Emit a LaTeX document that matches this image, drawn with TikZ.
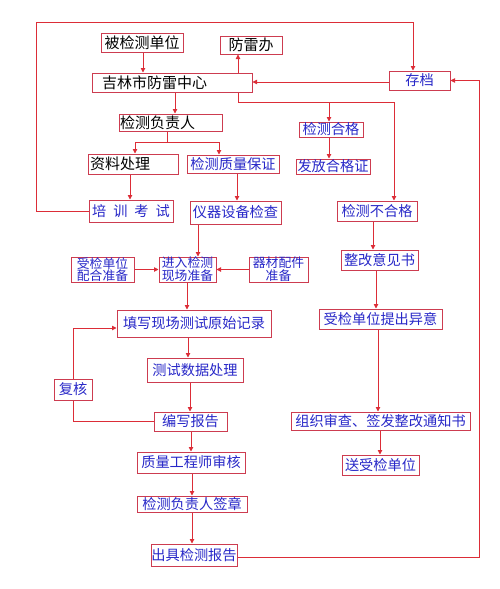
\documentclass[tikz,border=0pt]{standalone}
\usepackage{fontspec}
\newfontfamily\cjk{Noto Sans CJK SC}
\usetikzlibrary{arrows.meta}
\definecolor{boxred}{RGB}{205,60,80}
\definecolor{linered}{RGB}{220,45,55}
\definecolor{txtblue}{RGB}{40,40,200}
\pgfdeclarelayer{bg}
\pgfsetlayers{bg,main}
\tikzset{
  bx/.style={draw=boxred, line width=1pt, fill=white, inner sep=0pt, text=txtblue,
    font=\cjk\fontsize{14.2}{14.2}\selectfont},
  blk/.style={text=black, font=\cjk\fontsize{15}{15}\selectfont},
  two/.style={align=center, font=\cjk\fontsize{12.8}{11.5}\selectfont},
  conn/.style={draw=linered, line width=0.9pt},
  arr/.style={conn, -{Triangle[length=4.5pt,width=4.5pt]}},
}
\begin{document}
\begin{tikzpicture}[x=1pt,y=-1pt]
\useasboundingbox (0,0) rectangle (500,589);
% nodes
\node[bx,blk,minimum width=82,minimum height=19] (bjc) at (142,42.5) {被检测单位};
\node[bx,blk,minimum width=62,minimum height=18] (flb) at (251,45) {防雷办};
\node[bx,blk,minimum height=19,inner xsep=10pt,text width=140pt,align=left] (jl) at (172,82.5) {吉林市防雷中心};
\node[bx,minimum width=61,minimum height=19] (cd) at (419.5,80.5) {存档};
\node[bx,blk,minimum height=17,inner xsep=1pt,text width=101pt,align=left] (fzr) at (170.5,122.5) {检测负责人};
\node[bx,blk,minimum height=20,inner xsep=2pt,text width=86pt,align=left] (zl) at (133,164) {资料处理};
\node[bx,minimum width=92,minimum height=18] (zlbz) at (233,164) {检测质量保证};
\node[bx,minimum width=84,minimum height=22] (px) at (131,211) {培\hspace{7pt}训\hspace{7pt}考\hspace{7pt}试};
\node[bx,minimum width=91,minimum height=23] (yq) at (235.5,212.5) {仪器设备检查};
\node[bx,minimum width=64,minimum height=15] (hg) at (331,129.5) {检测合格};
\node[bx,minimum width=74,minimum height=15] (ff) at (333,166.5) {发放合格证};
\node[bx,minimum width=80,minimum height=20] (bhg) at (377,211) {检测不合格};
\node[bx,minimum width=77,minimum height=20] (zg) at (379.5,260) {整改意见书};
\node[bx,minimum width=123,minimum height=20] (yy) at (380.5,319) {受检单位提出异意};
\node[bx,minimum width=179,minimum height=18] (zz) at (380.5,421) {组织审查、签发整改通知书};
\node[bx,minimum width=77,minimum height=20] (sj) at (380.5,465) {送受检单位};
\node[bx,two,minimum width=63,minimum height=25] (sjph) at (102.5,269.5) {受检单位\\配合准备};
\node[bx,two,minimum width=57,minimum height=25] (jr) at (187.5,269.5) {进入检测\\现场准备};
\node[bx,two,minimum width=59,minimum height=25] (qc) at (278.5,269.5) {器材配件\\准备};
\node[bx,minimum width=154,minimum height=27] (tx) at (194,323.5) {填写现场测试原始记录};
\node[bx,minimum width=96,minimum height=24] (cs) at (195,370) {测试数据处理};
\node[bx,minimum width=38,minimum height=21] (fh) at (73,389.5) {复核};
\node[bx,minimum width=73,minimum height=19] (bxg) at (190.5,421.5) {编写报告};
\node[bx,minimum width=108,minimum height=21] (zlgc) at (191,462.5) {质量工程师审核};
\node[bx,minimum width=110,minimum height=16] (qz) at (192,504) {检测负责人签章};
\node[bx,minimum width=86,minimum height=22] (cj) at (194,555) {出具检测报告};
% helper coordinates
\coordinate (c1) at (238,102);
\coordinate (c2) at (394,102);
\coordinate (c3) at (329,102);
\coordinate (tl) at (36.7,22);
\coordinate (tr) at (413,22);
\coordinate (s1) at (167,142);
\coordinate (sL) at (135,142);
\coordinate (sR) at (219,142);
\coordinate (x143) at (143,0);
\coordinate (x175) at (175,0);
\coordinate (x130) at (130,0);
\coordinate (x237) at (237,0);
\coordinate (x373) at (373,0);
\coordinate (x376) at (376,0);
\coordinate (x378) at (378,0);
\coordinate (x380) at (380,0);
\coordinate (x198) at (198,0);
\coordinate (x187) at (187,0);
\coordinate (x188) at (188,0);
\coordinate (x190) at (190,0);
\coordinate (x191) at (191,0);
\coordinate (x192) at (192,0);
\coordinate (x479) at (479,0);
\coordinate (y82) at (0,82);
\coordinate (y328) at (0,328);
\coordinate (y557) at (0,557);
\begin{pgfonlayer}{bg}
\draw[arr] (bjc.south -| x143) -- (jl.north -| x143);
\draw[arr] (c1) -- (flb.south -| c1);
\draw[conn] (c1) -- (c2);
\draw[arr] (c2) -- (bhg.north -| c2);
\draw[arr] (c3) -- (hg.north -| c3);
\draw[arr] (px.west) -- (px.west -| tl) -- (tl) -- (tr) -- (cd.north -| tr);
\draw[arr] (cd.west |- y82) -- (jl.east |- y82);
\draw[arr] (jl.south -| x175) -- (fzr.north -| x175);
\draw[conn] (fzr.south -| s1) -- (s1);
\draw[conn] (sL) -- (sR);
\draw[arr] (sL) -- (zl.north -| sL);
\draw[arr] (sR) -- (zlbz.north -| sR);
\draw[arr] (zl.south -| x130) -- (px.north -| x130);
\draw[arr] (zlbz.south -| x237) -- (yq.north -| x237);
\draw[arr] (hg.south -| c3) -- (ff.north -| c3);
\draw[arr] (bhg.south -| x373) -- (zg.north -| x373);
\draw[arr] (zg.south -| x376) -- (yy.north -| x376);
\draw[arr] (yy.south -| x378) -- (zz.north -| x378);
\draw[arr] (zz.south -| x380) -- (sj.north -| x380);
\draw[arr] (yq.south -| x198) -- (jr.north -| x198);
\draw[arr] (sjph.east) -- (jr.west);
\draw[arr] (qc.west) -- (jr.east);
\draw[arr] (jr.south -| x187) -- (tx.north -| x187);
\draw[arr] (tx.south -| x188) -- (cs.north -| x188);
\draw[arr] (cs.south -| x190) -- (bxg.north -| x190);
\draw[arr] (fh.north) -- (fh.north |- y328) -- (tx.west |- y328);
\draw[conn] (bxg.west) -| (fh.south);
\draw[arr] (bxg.south -| x191) -- (zlgc.north -| x191);
\draw[arr] (zlgc.south -| x192) -- (qz.north -| x192);
\draw[arr] (qz.south -| x192) -- (cj.north -| x192);
\draw[arr] (cj.east |- y557) -- (x479 |- y557) -- (x479 |- cd.east) -- (cd.east);
\end{pgfonlayer}
\end{tikzpicture}
\end{document}
